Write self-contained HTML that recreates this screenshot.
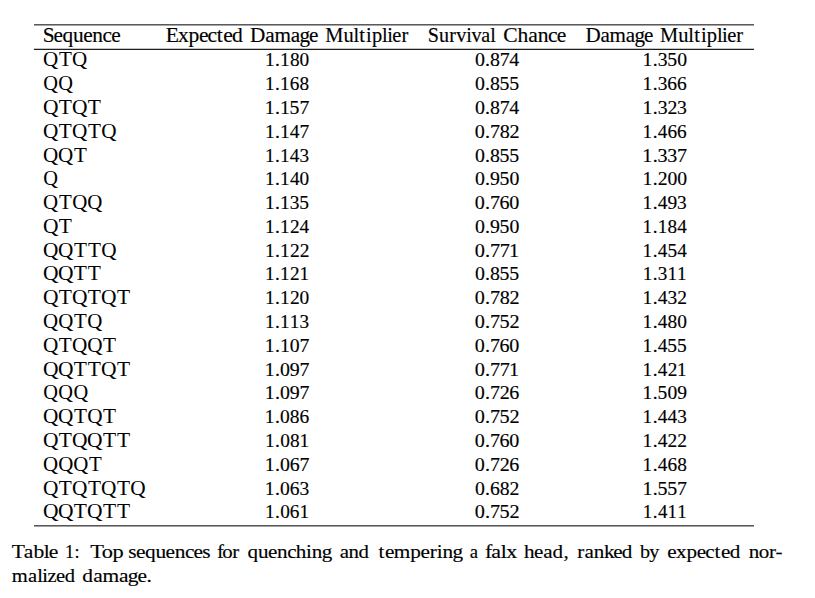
<!DOCTYPE html>
<html><head><meta charset="utf-8"><title>Table 1</title><style>
html,body{margin:0;padding:0;background:#fff;overflow:hidden;}
svg{display:block;}
text{font-family:"Liberation Serif",serif;font-kerning:none;font-variant-ligatures:none;fill:#000;}
text.b{stroke:#000;stroke-width:0.15px;}
text.s{stroke:#000;stroke-width:0.0px;}
</style></head><body>
<svg width="815" height="598" viewBox="0 0 815 598">
<rect width="815" height="598" fill="#fff"/>
<rect x="34" y="24" width="720" height="1" fill="#5a5a5a" shape-rendering="crispEdges"/>
<rect x="34" y="25" width="720" height="1" fill="#a5a5a5" shape-rendering="crispEdges"/>
<rect x="34" y="48" width="720" height="1" fill="#c4c4c4" shape-rendering="crispEdges"/>
<rect x="34" y="49" width="720" height="1" fill="#1e1e1e" shape-rendering="crispEdges"/>
<rect x="34" y="525" width="720" height="1" fill="#585858" shape-rendering="crispEdges"/>
<rect x="34" y="526" width="720" height="1" fill="#a0a0a0" shape-rendering="crispEdges"/>
<text class="b" font-size="20.0" transform="matrix(1.0678 0 0 1 0 42.00)" x="39.99 50.18 58.62 68.46 77.89 86.49 96.06 104.10" y="0">Sequence</text>
<text class="b" font-size="20.0" transform="matrix(1.0778 0 0 1 0 42.00)" x="153.68 165.24 174.92 184.55 192.42 201.09 207.09 215.22" y="0">Expected</text>
<text class="b" font-size="20.0" transform="matrix(1.0602 0 0 1 0 42.00)" x="235.87 250.19 258.80 274.17 282.38 291.51" y="0">Damage</text>
<text class="b" font-size="20.0" transform="matrix(1.0216 0 0 1 0 42.00)" x="318.38 336.14 346.07 351.78 358.38 364.08 373.99 379.06 384.07 392.91" y="0">Multiplier</text>
<text class="b" font-size="20.0" transform="matrix(1.0034 0 0 1 0 42.00)" x="426.28 437.46 447.75 454.80 464.58 469.89 479.70 488.64" y="0">Survival</text>
<text class="b" font-size="20.0" transform="matrix(1.0803 0 0 1 0 42.00)" x="465.85 479.01 489.01 497.86 507.35 515.31" y="0">Chance</text>
<text class="b" font-size="20.0" transform="matrix(1.0538 0 0 1 0 42.00)" x="555.58 569.90 578.51 593.88 602.09 611.22" y="0">Damage</text>
<text class="b" font-size="20.0" transform="matrix(1.0241 0 0 1 0 42.00)" x="644.44 662.20 672.13 677.84 684.44 690.14 700.05 705.12 710.13 718.97" y="0">Multiplier</text>
<text class="s" font-size="20.3" transform="matrix(1.0391 0 0 1 0 66.35)" x="41.42 56.70 69.40" y="0">QTQ</text>
<text class="b" font-size="19.2" transform="matrix(1.0081 0 0 1 0 66.35)" x="262.81 272.88 277.76 287.56 297.18" y="0">1.180</text>
<text class="b" font-size="19.2" transform="matrix(1.0383 0 0 1 0 66.35)" x="457.41 467.09 471.93 481.31 490.58" y="0">0.874</text>
<text class="b" font-size="19.2" transform="matrix(1.0269 0 0 1 0 66.35)" x="625.66 635.60 640.44 649.79 659.42" y="0">1.350</text>
<text class="s" font-size="20.3" transform="matrix(1.0043 0 0 1 0 90.14)" x="43.12 58.13" y="0">QQ</text>
<text class="b" font-size="19.2" transform="matrix(1.0023 0 0 1 0 90.14)" x="264.36 274.48 279.40 289.13 298.94" y="0">1.168</text>
<text class="b" font-size="19.2" transform="matrix(1.0322 0 0 1 0 90.14)" x="460.15 469.87 474.76 483.97 493.37" y="0">0.855</text>
<text class="b" font-size="19.2" transform="matrix(1.0165 0 0 1 0 90.14)" x="632.12 642.13 647.04 656.54 666.09" y="0">1.366</text>
<text class="s" font-size="20.3" transform="matrix(1.0578 0 0 1 0 113.93)" x="40.55 55.59 68.04 83.08" y="0">QTQT</text>
<text class="b" font-size="19.2" transform="matrix(1.0274 0 0 1 0 113.93)" x="257.77 267.71 272.45 281.89 291.55" y="0">1.157</text>
<text class="b" font-size="19.2" transform="matrix(1.0383 0 0 1 0 113.93)" x="457.41 467.09 471.93 481.31 490.58" y="0">0.874</text>
<text class="b" font-size="19.2" transform="matrix(1.0309 0 0 1 0 113.93)" x="623.24 633.15 637.96 647.56 656.78" y="0">1.323</text>
<text class="s" font-size="20.3" transform="matrix(1.0465 0 0 1 0 137.72)" x="41.07 56.26 68.86 84.05 96.65" y="0">QTQTQ</text>
<text class="b" font-size="19.2" transform="matrix(1.0171 0 0 1 0 137.72)" x="260.44 270.45 275.26 284.94 294.56" y="0">1.147</text>
<text class="b" font-size="19.2" transform="matrix(1.0497 0 0 1 0 137.72)" x="452.40 462.00 466.79 476.00 485.35" y="0">0.782</text>
<text class="b" font-size="19.2" transform="matrix(1.0035 0 0 1 0 137.72)" x="640.34 650.45 655.51 665.08 674.75" y="0">1.466</text>
<text class="s" font-size="20.3" transform="matrix(1.0391 0 0 1 0 161.51)" x="41.42 55.92 71.21" y="0">QQT</text>
<text class="b" font-size="19.2" transform="matrix(1.0037 0 0 1 0 161.51)" x="263.97 274.08 278.99 288.79 298.41" y="0">1.143</text>
<text class="b" font-size="19.2" transform="matrix(1.0322 0 0 1 0 161.51)" x="460.15 469.87 474.76 483.97 493.37" y="0">0.855</text>
<text class="b" font-size="19.2" transform="matrix(1.0467 0 0 1 0 161.51)" x="613.71 623.52 628.21 637.48 646.87" y="0">1.337</text>
<text class="s" font-size="20.3" transform="matrix(1.0043 0 0 1 0 185.30)" x="43.12" y="0">Q</text>
<text class="b" font-size="19.2" transform="matrix(1.0011 0 0 1 0 185.30)" x="264.67 274.80 279.73 289.56 299.29" y="0">1.140</text>
<text class="b" font-size="19.2" transform="matrix(1.0313 0 0 1 0 185.30)" x="460.55 470.28 475.25 484.39 493.98" y="0">0.950</text>
<text class="b" font-size="19.2" transform="matrix(1.0253 0 0 1 0 185.30)" x="626.64 636.59 641.63 650.98 660.44" y="0">1.200</text>
<text class="s" font-size="20.3" transform="matrix(1.0301 0 0 1 0 209.09)" x="41.85 57.25 70.08 84.71" y="0">QTQQ</text>
<text class="b" font-size="19.2" transform="matrix(1.0135 0 0 1 0 209.09)" x="261.37 271.41 276.25 285.91 295.39" y="0">1.135</text>
<text class="b" font-size="19.2" transform="matrix(1.0471 0 0 1 0 209.09)" x="453.50 463.12 467.93 477.04 486.43" y="0">0.760</text>
<text class="b" font-size="19.2" transform="matrix(1.0118 0 0 1 0 209.09)" x="635.06 645.11 650.10 659.81 669.23" y="0">1.493</text>
<text class="s" font-size="20.3" transform="matrix(1.0578 0 0 1 0 232.88)" x="40.55 55.59" y="0">QT</text>
<text class="b" font-size="19.2" transform="matrix(1.0010 0 0 1 0 232.88)" x="264.69 274.82 279.75 289.73 299.27" y="0">1.124</text>
<text class="b" font-size="19.2" transform="matrix(1.0313 0 0 1 0 232.88)" x="460.55 470.28 475.25 484.39 493.98" y="0">0.950</text>
<text class="b" font-size="19.2" transform="matrix(0.9974 0 0 1 0 232.88)" x="644.29 654.44 659.40 669.30 678.99" y="0">1.184</text>
<text class="s" font-size="20.3" transform="matrix(1.0465 0 0 1 0 256.67)" x="41.07 55.48 70.66 84.05 96.65" y="0">QQTTQ</text>
<text class="b" font-size="19.2" transform="matrix(1.0120 0 0 1 0 256.67)" x="261.77 271.82 276.67 286.54 296.13" y="0">1.122</text>
<text class="b" font-size="19.2" transform="matrix(1.0573 0 0 1 0 256.67)" x="449.12 458.66 463.40 472.58 481.54" y="0">0.771</text>
<text class="b" font-size="19.2" transform="matrix(1.0032 0 0 1 0 256.67)" x="640.56 650.68 655.73 665.26 675.07" y="0">1.454</text>
<text class="s" font-size="20.3" transform="matrix(1.0578 0 0 1 0 280.46)" x="40.55 54.80 69.84 83.08" y="0">QQTT</text>
<text class="b" font-size="19.2" transform="matrix(0.9973 0 0 1 0 280.46)" x="265.70 275.85 280.81 290.82 300.26" y="0">1.121</text>
<text class="b" font-size="19.2" transform="matrix(1.0322 0 0 1 0 280.46)" x="460.15 469.87 474.76 483.97 493.37" y="0">0.855</text>
<text class="b" font-size="19.2" transform="matrix(1.0003 0 0 1 0 280.46)" x="642.46 652.59 657.62 667.23 676.92" y="0">1.311</text>
<text class="s" font-size="20.3" transform="matrix(1.0578 0 0 1 0 304.25)" x="40.55 55.59 68.04 83.08 95.54 110.58" y="0">QTQTQT</text>
<text class="b" font-size="19.2" transform="matrix(1.0119 0 0 1 0 304.25)" x="261.79 271.84 276.69 286.56 296.04" y="0">1.120</text>
<text class="b" font-size="19.2" transform="matrix(1.0497 0 0 1 0 304.25)" x="452.40 462.00 466.79 476.00 485.35" y="0">0.782</text>
<text class="b" font-size="19.2" transform="matrix(1.0172 0 0 1 0 304.25)" x="631.69 641.70 646.65 656.14 665.87" y="0">1.432</text>
<text class="s" font-size="20.3" transform="matrix(1.0301 0 0 1 0 328.04)" x="41.85 56.48 71.89 84.71" y="0">QQTQ</text>
<text class="b" font-size="19.2" transform="matrix(1.0003 0 0 1 0 328.04)" x="264.90 275.04 279.97 289.67 299.46" y="0">1.113</text>
<text class="b" font-size="19.2" transform="matrix(1.0526 0 0 1 0 328.04)" x="451.10 460.68 465.45 474.45 483.96" y="0">0.752</text>
<text class="b" font-size="19.2" transform="matrix(1.0109 0 0 1 0 328.04)" x="635.63 645.68 650.68 660.32 669.91" y="0">1.480</text>
<text class="s" font-size="20.3" transform="matrix(1.0465 0 0 1 0 351.83)" x="41.07 56.26 68.86 83.27 98.45" y="0">QTQQT</text>
<text class="b" font-size="19.2" transform="matrix(1.0283 0 0 1 0 351.83)" x="257.53 267.47 272.19 281.81 291.28" y="0">1.107</text>
<text class="b" font-size="19.2" transform="matrix(1.0471 0 0 1 0 351.83)" x="453.50 463.12 467.93 477.04 486.43" y="0">0.760</text>
<text class="b" font-size="19.2" transform="matrix(1.0124 0 0 1 0 351.83)" x="634.71 644.76 649.75 659.18 668.76" y="0">1.455</text>
<text class="s" font-size="20.3" transform="matrix(1.0578 0 0 1 0 375.62)" x="40.55 54.80 69.84 83.08 95.54 110.58" y="0">QQTTQT</text>
<text class="b" font-size="19.2" transform="matrix(1.0356 0 0 1 0 375.62)" x="255.70 265.58 270.44 279.89 289.21" y="0">1.097</text>
<text class="b" font-size="19.2" transform="matrix(1.0573 0 0 1 0 375.62)" x="449.12 458.66 463.40 472.58 481.54" y="0">0.771</text>
<text class="b" font-size="19.2" transform="matrix(1.0010 0 0 1 0 375.62)" x="641.95 652.08 657.15 666.99 676.39" y="0">1.421</text>
<text class="s" font-size="20.3" transform="matrix(1.0043 0 0 1 0 399.41)" x="43.12 58.13 73.14" y="0">QQQ</text>
<text class="b" font-size="19.2" transform="matrix(1.0356 0 0 1 0 399.41)" x="255.70 265.58 270.44 279.89 289.21" y="0">1.097</text>
<text class="b" font-size="19.2" transform="matrix(1.0476 0 0 1 0 399.41)" x="453.28 462.89 467.70 477.03 486.06" y="0">0.726</text>
<text class="b" font-size="19.2" transform="matrix(1.0187 0 0 1 0 399.41)" x="630.71 640.70 645.50 655.21 664.81" y="0">1.509</text>
<text class="s" font-size="20.3" transform="matrix(1.0465 0 0 1 0 423.20)" x="41.07 55.48 70.66 83.27 98.45" y="0">QQTQT</text>
<text class="b" font-size="19.2" transform="matrix(1.0158 0 0 1 0 423.20)" x="260.76 270.78 275.78 285.33 294.75" y="0">1.086</text>
<text class="b" font-size="19.2" transform="matrix(1.0526 0 0 1 0 423.20)" x="451.10 460.68 465.45 474.45 483.96" y="0">0.752</text>
<text class="b" font-size="19.2" transform="matrix(1.0068 0 0 1 0 423.20)" x="638.26 648.34 653.37 663.01 672.59" y="0">1.443</text>
<text class="s" font-size="20.3" transform="matrix(1.0578 0 0 1 0 446.99)" x="40.55 55.59 68.04 82.29 97.33 110.58" y="0">QTQQTT</text>
<text class="b" font-size="19.2" transform="matrix(1.0081 0 0 1 0 446.99)" x="262.81 272.88 277.94 287.56 297.00" y="0">1.081</text>
<text class="b" font-size="19.2" transform="matrix(1.0471 0 0 1 0 446.99)" x="453.50 463.12 467.93 477.04 486.43" y="0">0.760</text>
<text class="b" font-size="19.2" transform="matrix(1.0146 0 0 1 0 446.99)" x="633.28 643.31 648.28 657.98 667.54" y="0">1.422</text>
<text class="s" font-size="20.3" transform="matrix(1.0301 0 0 1 0 470.78)" x="41.85 56.48 71.11 86.52" y="0">QQQT</text>
<text class="b" font-size="19.2" transform="matrix(1.0353 0 0 1 0 470.78)" x="255.77 265.65 270.52 279.76 289.29" y="0">1.067</text>
<text class="b" font-size="19.2" transform="matrix(1.0476 0 0 1 0 470.78)" x="453.28 462.89 467.70 477.03 486.06" y="0">0.726</text>
<text class="b" font-size="19.2" transform="matrix(1.0055 0 0 1 0 470.78)" x="639.11 649.21 654.25 663.80 673.58" y="0">1.468</text>
<text class="s" font-size="20.3" transform="matrix(1.0497 0 0 1 0 494.57)" x="40.93 56.07 68.63 83.77 96.33 111.48 124.04" y="0">QTQTQTQ</text>
<text class="b" font-size="19.2" transform="matrix(1.0221 0 0 1 0 494.57)" x="259.13 269.10 274.06 283.42 292.95" y="0">1.063</text>
<text class="b" font-size="19.2" transform="matrix(1.0286 0 0 1 0 494.57)" x="461.76 471.50 476.28 485.84 495.38" y="0">0.682</text>
<text class="b" font-size="19.2" transform="matrix(1.0395 0 0 1 0 494.57)" x="618.02 627.87 632.52 641.85 651.40" y="0">1.557</text>
<text class="s" font-size="20.3" transform="matrix(1.0578 0 0 1 0 518.36)" x="40.55 54.80 69.84 82.29 97.33 110.58" y="0">QQTQTT</text>
<text class="b" font-size="19.2" transform="matrix(1.0060 0 0 1 0 518.36)" x="263.35 273.45 278.52 288.03 297.62" y="0">1.061</text>
<text class="b" font-size="19.2" transform="matrix(1.0526 0 0 1 0 518.36)" x="451.10 460.68 465.45 474.45 483.96" y="0">0.752</text>
<text class="b" font-size="19.2" transform="matrix(0.9866 0 0 1 0 518.36)" x="651.41 661.64 666.82 676.52 686.35" y="0">1.411</text>
<text class="b" font-size="19.8" transform="matrix(1.0900 0 0 1 0 558.00)" x="10.77 21.86 30.84 40.15 44.72" y="0">Table</text>
<text class="b" font-size="19.8" transform="matrix(0.9217 0 0 1 0 558.00)" x="70.52 80.91" y="0">1:</text>
<text class="b" font-size="19.8" transform="matrix(1.1318 0 0 1 0 558.00)" x="79.70 89.98 99.32" y="0">Top</text>
<text class="b" font-size="19.8" transform="matrix(1.0798 0 0 1 0 558.00)" x="118.87 125.86 134.21 143.95 153.28 161.78 171.25 179.20 187.27" y="0">sequences</text>
<text class="b" font-size="19.8" transform="matrix(1.0544 0 0 1 0 558.00)" x="205.85 210.89 220.38" y="0">for</text>
<text class="b" font-size="19.8" transform="matrix(1.0649 0 0 1 0 558.00)" x="232.49 242.27 251.64 260.17 269.68 277.82 287.39 292.72 302.09" y="0">quenching</text>
<text class="b" font-size="19.8" transform="matrix(1.0522 0 0 1 0 558.00)" x="322.87 331.33 340.68" y="0">and</text>
<text class="b" font-size="19.8" transform="matrix(1.0741 0 0 1 0 558.00)" x="352.30 358.40 366.60 381.86 391.59 400.09 406.71 411.96 421.23" y="0">tempering</text>
<text class="b" font-size="19.8" transform="matrix(0.9441 0 0 1 0 558.00)" x="497.52" y="0">a</text>
<text class="b" font-size="19.8" transform="matrix(1.1080 0 0 1 0 558.00)" x="437.68 443.44 452.05 457.00" y="0">falx</text>
<text class="b" font-size="19.8" transform="matrix(1.0647 0 0 1 0 558.00)" x="492.23 501.57 510.21 518.86 529.35" y="0">head,</text>
<text class="b" font-size="19.8" transform="matrix(1.0650 0 0 1 0 558.00)" x="541.92 548.90 557.60 567.06 575.75 583.90" y="0">ranked</text>
<text class="b" font-size="19.8" transform="matrix(1.0171 0 0 1 0 558.00)" x="629.36 638.38" y="0">by</text>
<text class="b" font-size="19.8" transform="matrix(1.0679 0 0 1 0 558.00)" x="624.91 633.08 642.82 652.51 660.43 669.13 675.19 683.39" y="0">expected</text>
<text class="b" font-size="19.8" transform="matrix(1.0646 0 0 1 0 558.00)" x="703.37 712.74 722.25 728.39" y="0">nor-</text>
<text class="b" font-size="19.8" transform="matrix(1.0389 0 0 1 0 581.80)" x="11.37 26.99 35.77 40.77 45.63 53.87 62.38" y="0">malized</text>
<text class="b" font-size="19.8" transform="matrix(1.0835 0 0 1 0 581.80)" x="75.97 86.15 94.61 109.77 117.85 126.84 135.21" y="0">damage.</text>
</svg>
</body></html>
